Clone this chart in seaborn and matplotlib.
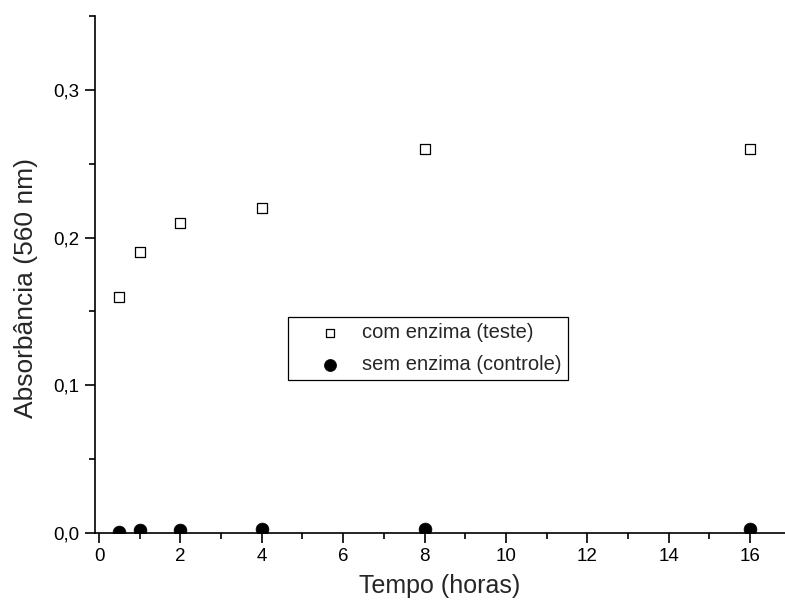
import matplotlib
matplotlib.use("Agg")
import matplotlib.pyplot as plt
import seaborn as sns
import pandas as pd
from matplotlib.ticker import MultipleLocator, FuncFormatter

# Data
tempo = [0.5, 1, 2, 4, 8, 16]
com_enzima = [0.16, 0.19, 0.21, 0.22, 0.26, 0.26]
sem_enzima = [0.001, 0.002, 0.002, 0.003, 0.003, 0.003]
label_com = "com enzima (teste)"
label_sem = "sem enzima (controle)"

sns.set_style("ticks")
plt.rcParams['font.family'] = ['Liberation Sans', 'DejaVu Sans']

fig = plt.figure(figsize=(7.85, 6.12), dpi=100)
ax = fig.add_axes([95/785, (612-533)/612, 690/785, (533-15.7)/612])

df_com = pd.DataFrame({"t": tempo, "a": com_enzima})
df_sem = pd.DataFrame({"t": tempo, "a": sem_enzima})

sns.scatterplot(data=df_com, x="t", y="a", ax=ax, marker="s", s=57,
                facecolor="white", edgecolor="black", linewidth=0.9,
                label=label_com, zorder=3)
sns.scatterplot(data=df_sem, x="t", y="a", ax=ax, marker="o", s=85,
                color="black", edgecolor="black", linewidth=0.5,
                label=label_sem, zorder=3)

ax.set_xlim(-0.1, 16.86)
ax.set_ylim(0.0, 0.3503)

ax.xaxis.set_major_locator(MultipleLocator(2))
ax.xaxis.set_minor_locator(MultipleLocator(1))
ax.yaxis.set_major_locator(MultipleLocator(0.1))
ax.yaxis.set_minor_locator(MultipleLocator(0.05))
ax.yaxis.set_major_formatter(FuncFormatter(lambda v, p: f"{v:.1f}".replace(".", ",")))

for s in ["top", "right"]:
    ax.spines[s].set_visible(False)
for s in ["left", "bottom"]:
    ax.spines[s].set_linewidth(1.2)
    ax.spines[s].set_color("black")

ax.tick_params(axis="both", which="major", length=7.5, width=1.2,
               labelsize=13.5, color="black", labelcolor="black", direction="out")
ax.tick_params(axis="both", which="minor", length=4, width=1.2,
               color="black", direction="out")

ax.set_xlabel("Tempo (horas)", fontsize=18, labelpad=6)
ax.set_ylabel("Absorbância (560 nm)", fontsize=19)
ax.yaxis.set_label_coords(-0.083, 0.4736)

leg = ax.legend(loc="upper left", bbox_to_anchor=((288-95)/690, (533-317)/517.3),
                borderaxespad=0, fontsize=14.5, frameon=True, fancybox=False,
                edgecolor="black", framealpha=1, borderpad=0.3,
                labelspacing=0.65, handlelength=3.58, handletextpad=-0.2)
leg.get_frame().set_linewidth(0.9)
hs = leg.legend_handles
try:
    hs[0].set_sizes([40])
    hs[1].set_sizes([75])
except Exception:
    pass

fig.savefig("out.png", dpi=100)
